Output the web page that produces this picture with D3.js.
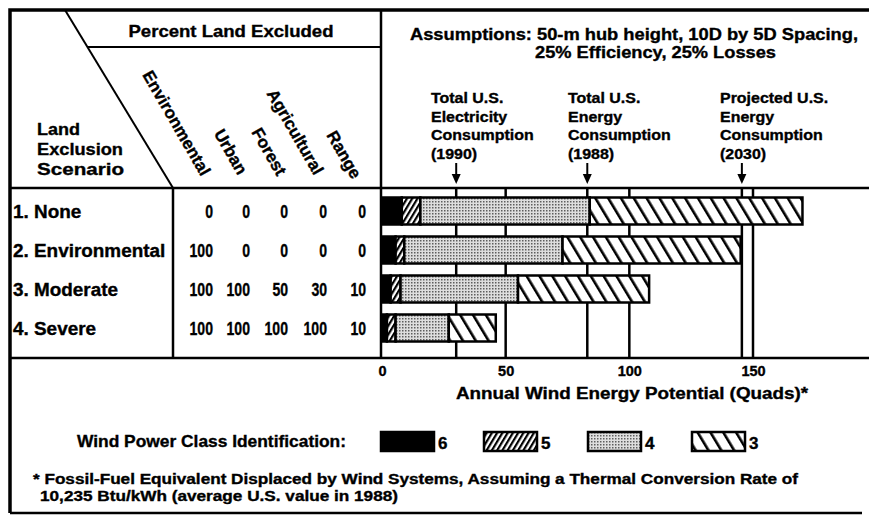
<!DOCTYPE html>
<html>
<head>
<meta charset="utf-8">
<script src="https://cdn.jsdelivr.net/npm/d3@7"></script>
<style>
  body { margin: 0; background: #fff; }
  svg text { font-family: "Liberation Sans", Arial, Helvetica, sans-serif; font-weight: bold; fill: #000; stroke: #000; stroke-width: 0.35px; }
</style>
</head>
<body>
<script>
// data
const scenarios = ["1. None", "2. Environmental", "3. Moderate", "4. Severe"]
const landTypes = ["Environmental", "Urban", "Forest", "Agricultural", "Range"]
const pctEnvironmental = [0, 100, 100, 100]
const pctUrban = [0, 0, 100, 100]
const pctForest = [0, 0, 50, 100]
const pctAgricultural = [0, 0, 30, 100]
const pctRange = [0, 0, 10, 10]

const windClasses = ["6", "5", "4", "3"]
const class6 = [8, 5.5, 3.5, 2]
const class5 = [7.5, 3.5, 4, 3.5]
const class4 = [68.5, 64, 47.5, 21.5]
const class3 = [86, 72, 53, 19]

const xTicks = [0, 50, 100, 150]
const refValues = [30, 83, 145.5]
const refLabels = [
    ["Total U.S.", "Electricity", "Consumption", "(1990)"],
    ["Total U.S.", "Energy", "Consumption", "(1988)"],
    ["Projected U.S.", "Energy", "Consumption", "(2030)"]
]

const width = 869
const height = 519

const svg = d3.select("body").append("svg")
    .attr("width", width)
    .attr("height", height)
    .attr("viewBox", [0, 0, width, height])

// text helper, optional target width squeezes/stretches glyphs
function label(g, str, x, y, size, opts = {}) {
    const t = g.append("text")
        .attr("x", x)
        .attr("y", y)
        .attr("font-size", size)
        .attr("text-anchor", opts.anchor || "start")
        .text(str)
    if (opts.transform) t.attr("transform", opts.transform)
    let w = opts.width
    if (!w && opts.ratio) w = t.node().getComputedTextLength() * opts.ratio
    if (w) t.attr("textLength", w).attr("lengthAdjust", "spacingAndGlyphs")
    return t
}

// patterns
const defs = svg.append("defs")
const p5 = defs.append("pattern").attr("id", "c5")
    .attr("patternUnits", "userSpaceOnUse").attr("width", 4.5).attr("height", 10)
    .attr("patternTransform", "rotate(31)")
p5.append("rect").attr("width", 4.5).attr("height", 10).attr("fill", "#fff")
p5.append("rect").attr("width", 2.2).attr("height", 10).attr("fill", "#000")

const p4 = defs.append("pattern").attr("id", "c4")
    .attr("patternUnits", "userSpaceOnUse").attr("width", 3).attr("height", 3)
p4.append("rect").attr("width", 3).attr("height", 3).attr("fill", "#dedede")
p4.append("rect").attr("width", 1.5).attr("height", 1.5).attr("fill", "#5e5e5e")

const p3 = defs.append("pattern").attr("id", "c3")
    .attr("patternUnits", "userSpaceOnUse").attr("width", 11).attr("height", 20)
    .attr("patternTransform", "rotate(-31)")
p3.append("rect").attr("width", 11).attr("height", 20).attr("fill", "#fff")
p3.append("rect").attr("width", 2.6).attr("height", 20).attr("fill", "#000")

const fills = {"6": "#000", "5": "url(#c5)", "4": "url(#c4)", "3": "url(#c3)"}

// scales
const x = d3.scaleLinear()
    .domain([0, 150])
    .range([382, 753])

const y = d3.scalePoint()
    .domain(scenarios)
    .range([211, 328])

const barH = 27

// frame lines
const frame = svg.append("g").attr("stroke", "#000").attr("fill", "none")
frame.append("path").attr("stroke-width", 3.5)
    .attr("d", "M10,513 V10 H869")
frame.append("path").attr("stroke-width", 2.5)
    .attr("d", "M10,513 H862")
frame.append("line").attr("stroke-width", 2.5)
    .attr("x1", 10).attr("x2", 869).attr("y1", 188).attr("y2", 188)
frame.append("line").attr("stroke-width", 2.5)
    .attr("x1", 10).attr("x2", 869).attr("y1", 358).attr("y2", 358)
frame.append("line").attr("stroke-width", 2.5)
    .attr("x1", 381).attr("x2", 381).attr("y1", 10).attr("y2", 358)
frame.append("line").attr("stroke-width", 2)
    .attr("x1", 65).attr("y1", 10).attr("x2", 173).attr("y2", 188)
frame.append("line").attr("stroke-width", 2.5)
    .attr("x1", 173).attr("x2", 173).attr("y1", 188).attr("y2", 358)
frame.append("line").attr("stroke-width", 2)
    .attr("x1", 88).attr("x2", 381).attr("y1", 47).attr("y2", 47)

// table header
const tbl = svg.append("g")
label(tbl, "Percent Land Excluded", 231, 37, 16.5, {anchor: "middle", width: 205})
label(tbl, "Land", 37, 135, 16.5, {width: 43})
label(tbl, "Exclusion", 37, 155, 16.5, {width: 86})
label(tbl, "Scenario", 37, 175, 16.5, {width: 87})

const headerEnds = [[201, 177], [238, 176], [277, 177], [314, 176], [352, 180]]
landTypes.forEach((name, i) => {
    const [hx, hy] = headerEnds[i]
    label(tbl, name, 0, 0, 17, {anchor: "end", transform: `translate(${hx},${hy}) rotate(60)`})
})

// rows
const colRight = [213, 250, 288, 327, 366]
const pctCols = [pctEnvironmental, pctUrban, pctForest, pctAgricultural, pctRange]
scenarios.forEach((s, r) => {
    label(tbl, s, 13, y(s) + 6.5, 17.5, {ratio: 1.08})
    pctCols.forEach((col, c) => {
        label(tbl, col[r], colRight[c], y(s) + 6.5, 18, {anchor: "end", ratio: 0.78})
    })
})

// chart title
const ttl = svg.append("g")
label(ttl, "Assumptions: 50-m hub height, 10D by 5D Spacing,", 410, 40, 16.5, {width: 448})
label(ttl, "25% Efficiency, 25% Losses", 535, 58, 16.5, {width: 241})

// gridlines
const grid = svg.append("g").attr("stroke", "#000").attr("stroke-width", 2.5)
grid.selectAll("line")
    .data(xTicks.slice(1).concat(refValues))
    .join("line")
    .attr("x1", d => x(d)).attr("x2", d => x(d))
    .attr("y1", 188).attr("y2", 358)

// reference annotations
const refX = [431, 568, 720]
const ann = svg.append("g")
refValues.forEach((v, i) => {
    refLabels[i].forEach((ln, j) => {
        label(ann, ln, refX[i], 103 + j * 18.7, 14.5, {ratio: 1.1})
    })
    ann.append("line")
        .attr("x1", x(v)).attr("x2", x(v))
        .attr("y1", 163).attr("y2", 178)
        .attr("stroke", "#000").attr("stroke-width", 2)
    ann.append("path")
        .attr("d", `M${x(v) - 4.5},174 L${x(v) + 4.5},174 L${x(v)},184 Z`)
        .attr("fill", "#000")
})

// bars
const table = scenarios.map((s, i) => ({
    scenario: s, "6": class6[i], "5": class5[i], "4": class4[i], "3": class3[i]
}))
const series = d3.stack().keys(windClasses)(table)

svg.append("g")
    .selectAll("g")
    .data(series)
    .join("g")
    .attr("fill", d => fills[d.key])
    .selectAll("rect")
    .data(d => d)
    .join("rect")
    .attr("x", d => x(d[0]))
    .attr("y", d => y(d.data.scenario) - barH / 2)
    .attr("width", d => x(d[1]) - x(d[0]))
    .attr("height", barH)
    .attr("stroke", "#000")
    .attr("stroke-width", 2.5)

// x axis
const gx = svg.append("g")
    .attr("transform", "translate(0,358)")
    .call(d3.axisBottom(x).tickValues(xTicks).tickSize(0).tickPadding(8))
gx.select(".domain").remove()
gx.selectAll("text")
    .attr("font-size", 14.5)
    .attr("font-family", "\"Liberation Sans\", Arial, sans-serif")
    .attr("font-weight", "bold")
    .attr("fill", "#000")

const foot = svg.append("g")
label(foot, "Annual Wind Energy Potential (Quads)*", 456, 399, 16, {width: 352})

// legend
label(foot, "Wind Power Class Identification:", 77, 447, 16.5, {width: 269})
const legX = [381, 484, 588, 692]
windClasses.forEach((k, i) => {
    foot.append("rect")
        .attr("x", legX[i]).attr("y", 432)
        .attr("width", 53).attr("height", 19)
        .attr("fill", fills[k])
        .attr("stroke", "#000").attr("stroke-width", 2.5)
    label(foot, k, legX[i] + 57, 449, 17)
})

// footnote
label(foot, "* Fossil-Fuel Equivalent Displaced by Wind Systems, Assuming a Thermal Conversion Rate of", 33, 484, 14, {width: 765})
label(foot, "10,235 Btu/kWh (average U.S. value in 1988)", 40, 501, 14, {width: 358})
</script>
</body>
</html>
